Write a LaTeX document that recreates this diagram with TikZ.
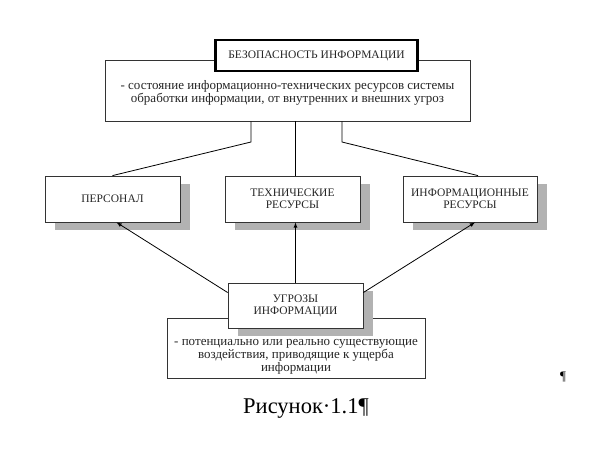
\documentclass[tikz,border=0pt]{standalone}
\usepackage{fontspec}
\setmainfont{Liberation Serif}
\usepackage{tikz}
\usetikzlibrary{calc,shadows}
\def\textbox{\node[draw=black!80,fill=white,text=black!85,align=center,font=\fontsize{13}{12.8}\selectfont,inner sep=1pt]}
\def\greybox{\node[draw=black!80,fill=white,text=black!85,align=center,font=\fontsize{11.5}{12}\selectfont,general shadow={fill=gray!60,shadow xshift=10pt,shadow yshift=-8pt},inner sep=1pt]}

\begin{document}
\begin{tikzpicture}[x=1pt,y=-1pt,line width=0.8pt]
\useasboundingbox[fill=white] (0,0) rectangle (590,460);
\textbox[minimum width=365pt,minimum height=61pt,text height=27pt,text depth=3pt] (desc) at (287.5,90.5) {- состояние информационно-технических ресурсов системы\\обработки информации, от внутренних и внешних угроз};
\node[draw=black,fill=white,line width=2.5pt,minimum width=202pt,minimum height=31pt,font=\fontsize{11.5}{12}\selectfont,text=black!85] (title) at (316.5,55.5) {БЕЗОПАСНОСТЬ ИНФОРМАЦИИ};
\greybox[minimum width=135pt,minimum height=46pt] (pers) at (112.5,199) {ПЕРСОНАЛ};
\greybox[minimum width=135pt,minimum height=46pt] (tech) at (292.5,199) {ТЕХНИЧЕСКИЕ\\РЕСУРСЫ};
\greybox[minimum width=134pt,minimum height=46pt] (info) at (470,199) {ИНФОРМАЦИОННЫЕ\\РЕСУРСЫ};
\textbox[minimum width=258pt,minimum height=60pt,text height=50pt,text depth=3pt] (thrdesc) at (296,348) {- потенциально или реально существующие\\воздействия, приводящие к ущерба\\информации};
\greybox[minimum width=135pt,minimum height=45pt] (thr) at (295.5,305.5) {УГРОЗЫ\\ИНФОРМАЦИИ};
\coordinate (kl) at (251,142);
\coordinate (kr) at (342,142);
\draw (desc.south -| kl) -- (kl) -- (pers.north);
\draw (desc.south -| thr) -- (tech.north -| thr);
\draw (desc.south -| kr) -- (kr) -- ($(info.north)+(8,0)$);
\draw[-latex] ($(thr.west)+(0,-13)$) -- ($(pers.south)+(4,0)$);
\draw[-latex] (thr.north) -- (tech.south -| thr.north);
\draw[-latex] ($(thr.east)+(0,-13)$) -- ($(info.south)+(5,0)$);
\node (cap) at (306,408) {\fontsize{22.5}{25}\selectfont Рисунок·1.1¶};
\node (mark) at (563,377) {\fontsize{13}{14}\selectfont ¶};
\end{tikzpicture}
\end{document}
